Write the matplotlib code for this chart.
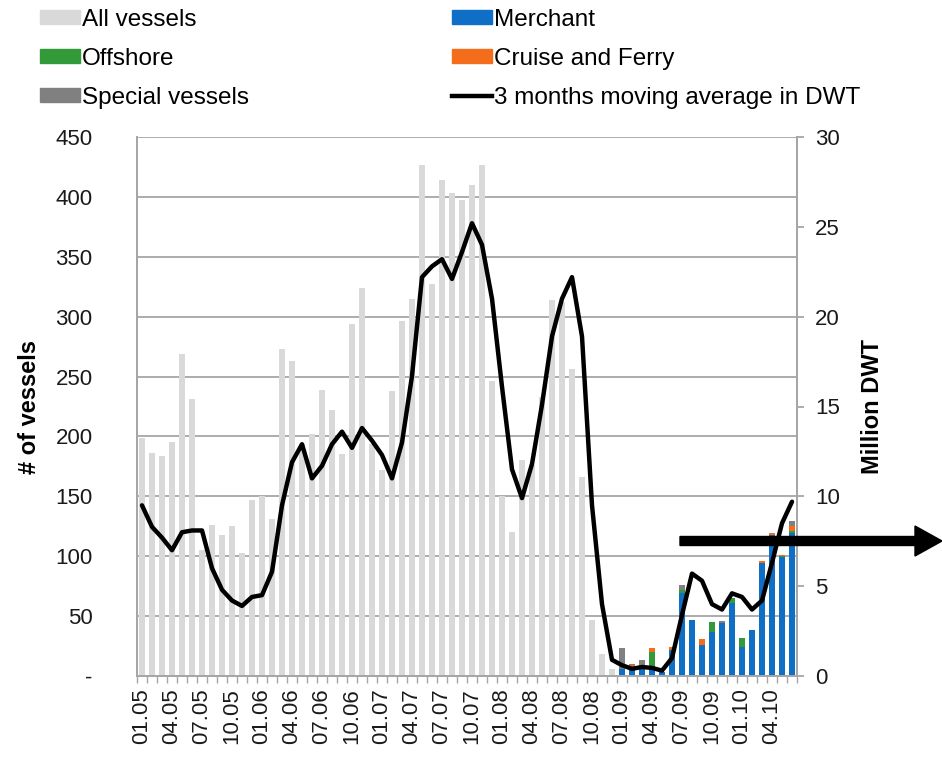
import matplotlib

matplotlib.use("Agg")
import matplotlib.pyplot as plt
import numpy as np
from matplotlib.lines import Line2D
from matplotlib.patches import FancyArrow, Patch
from matplotlib.transforms import IdentityTransform

plt.rcParams["font.family"] = ["Liberation Sans", "DejaVu Sans"]

# monthly vessel counts, 01.05 .. 12.08 (all vessels, before the split)
all_vessels = [199, 186, 184, 195, 269, 231, 105, 126, 118, 125, 103, 147,
               150, 131, 273, 263, 194, 202, 239, 222, 185, 294, 324, 194,
               172, 238, 296, 315, 427, 327, 414, 403, 397, 410, 427, 246,
               150, 120, 180, 176, 233, 314, 312, 256, 166, 47, 18, 6]

# 01.09 .. 06.10 split by segment
merchant = [6, 7, 7, 5, 3, 22, 69, 47, 26, 37, 44, 61, 24, 38, 94, 118, 99, 119]
offshore = [0, 0, 1, 15, 0, 0, 3, 0, 0, 8, 0, 4, 8, 0, 0, 0, 1, 2]
cruise_ferry = [0, 2, 0, 3, 0, 2, 0, 0, 5, 0, 0, 0, 0, 0, 2, 1, 1, 4]
special = [17, 1, 5, 0, 0, 0, 4, 0, 0, 0, 2, 0, 0, 0, 0, 0, 0, 4]

# 3 months moving average, million DWT, 01.05 .. 06.10
dwt_ma = [9.5, 8.3, 7.7, 7.0, 8.0, 8.1, 8.1, 6.0, 4.8, 4.2, 3.9, 4.4,
          4.5, 5.8, 9.5, 11.9, 12.9, 11.0, 11.7, 12.9, 13.6, 12.7, 13.8, 13.1,
          12.3, 11.0, 13.0, 16.7, 22.2, 22.8, 23.2, 22.1, 23.6, 25.2, 24.0, 21.0,
          16.1, 11.5, 9.9, 11.8, 15.1, 18.9, 21.0, 22.2, 18.9, 9.5, 4.0, 0.9,
          0.6, 0.4, 0.5, 0.45, 0.3, 1.0, 3.4, 5.7, 5.3, 4.0, 3.7, 4.6,
          4.4, 3.7, 4.2, 6.3, 8.5, 9.7]

tick_labels = ["01.05", "04.05", "07.05", "10.05", "01.06", "04.06", "07.06",
               "10.06", "01.07", "04.07", "07.07", "10.07", "01.08", "04.08",
               "07.08", "10.08", "01.09", "04.09", "07.09", "10.09", "01.10",
               "04.10"]

GRID = "#a6a6a6"
TXT = "#1a1a1a"
C_ALL = "#d9d9d9"
C_MER = "#0f6fc6"
C_OFF = "#339a3a"
C_CRU = "#f46d1b"
C_SPE = "#808080"

n = len(dwt_ma)
x_all = np.arange(len(all_vessels))
x_seg = np.arange(len(all_vessels), n)
bw = 0.66

fig = plt.figure(figsize=(9.42, 7.58), dpi=100)
ax = fig.add_axes([137 / 942, 82 / 758, 660 / 942, 539 / 758])
ax2 = ax.twinx()

ax.set_axisbelow(True)
ax.yaxis.grid(True, color=GRID, lw=1.3)
ax.bar(x_all, all_vessels, width=bw, color=C_ALL, zorder=2)
bottom = np.zeros(len(merchant))
for vals, col in [(merchant, C_MER), (offshore, C_OFF),
                  (cruise_ferry, C_CRU), (special, C_SPE)]:
    ax.bar(x_seg, vals, width=bw, bottom=bottom, color=col, zorder=2)
    bottom += np.array(vals)

ax2.plot(np.arange(n), dwt_ma, color="black", lw=3.2, solid_joinstyle="round",
         solid_capstyle="round")

ax.set_xlim(-0.5, n - 0.5)
ax.set_ylim(0, 450)
ax2.set_ylim(0, 30)
ax.set_yticks(np.arange(0, 451, 50))
ax.set_yticklabels(["-"] + [str(v) for v in range(50, 451, 50)])
ax2.set_yticks(np.arange(0, 31, 5))

ax.set_xticks(np.arange(0, n, 3))
ax.set_xticklabels(tick_labels, rotation=90)
ax.set_xticks(np.arange(-0.5, n, 1), minor=True)
ax.tick_params(axis="x", which="major", length=0, pad=9, labelsize=16,
               labelcolor=TXT)
ax.tick_params(axis="x", which="minor", length=5, color=GRID, width=1)
ax.tick_params(axis="y", length=0, pad=32, labelsize=16, labelcolor=TXT)
ax2.tick_params(axis="y", length=5, color=GRID, width=1.3, pad=8,
                labelsize=16, labelcolor=TXT)

for a in (ax, ax2):
    for s in a.spines.values():
        s.set_color(GRID)
        s.set_linewidth(1.3)
    a.spines["top"].set_visible(False)

ax.set_ylabel("# of vessels", fontsize=17, fontweight="bold", labelpad=10)
ax2.set_ylabel("Million DWT", fontsize=17, fontweight="bold", rotation=90,
               labelpad=15)

h1 = [Patch(color=C_ALL, label="All vessels"),
      Patch(color=C_OFF, label="Offshore"),
      Patch(color=C_SPE, label="Special vessels")]
h2 = [Patch(color=C_MER, label="Merchant"),
      Patch(color=C_CRU, label="Cruise and Ferry"),
      Line2D([0], [0], color="black", lw=3.2,
             label="3 months moving average in DWT")]
for hs, x0 in [(h1, 40), (h2, 452)]:
    fig.legend(handles=hs, loc="upper left",
               bbox_to_anchor=(x0 / 942, 1 - 9 / 758), frameon=False,
               fontsize=17.5, handlelength=1.65, handleheight=0.5,
               handletextpad=0.08, labelspacing=0.7, borderpad=0,
               borderaxespad=0)

fig.add_artist(FancyArrow(680, 217, 235, 0, width=9, head_width=30,
                          head_length=27, color="black",
                          transform=IdentityTransform()))

fig.savefig("out.png", dpi=100)
